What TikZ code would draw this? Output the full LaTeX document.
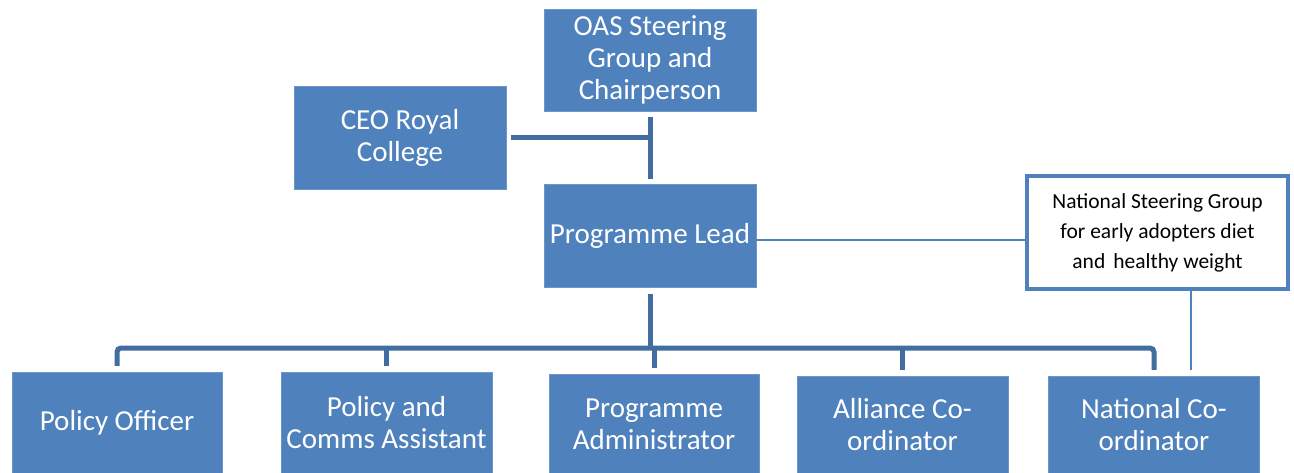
\documentclass[tikz,border=0pt]{standalone}
\usepackage{fontspec}
\setmainfont{Carlito}
\usepackage{tikz}
\definecolor{boxblue}{RGB}{79,129,189}
\definecolor{boxedge}{RGB}{108,150,203}
\definecolor{trunkblue}{RGB}{65,109,160}
\begin{document}
\begin{tikzpicture}[x=1pt, y=-1pt, box/.style={draw=boxedge, fill=boxblue, text=white, align=center, inner sep=0pt, font=\fontsize{29}{32}\selectfont, minimum width=212pt, minimum height=103pt}, nbox/.style={draw=boxblue, line width=4pt, fill=white, align=center, inner sep=0pt, font=\fontsize{21.5}{30}\selectfont, minimum width=261pt, minimum height=113pt}, trunk/.style={draw=trunkblue, line width=5pt}, link/.style={draw=boxblue, line width=2pt}]
\fill[white] (0,0) rectangle (1294,473);
\useasboundingbox (0,0) rectangle (1294,473);
\node[box, minimum height=102pt] (oas) at (650,60) {OAS Steering\\Group and\\Chairperson};
\node[box] (ceo) at (400,137.5) {CEO Royal\\College};
\node[box] (lead) at (650,235.5) {Programme Lead};
\node[nbox] (nsg) at (1157.5,232.5) {National Steering Group\\for early adopters diet\\and\hspace{0.15em} healthy weight};
\node[box, minimum width=210pt, minimum height=102pt] (po) at (117,423) {Policy Officer};
\node[box, minimum width=211pt, minimum height=102pt] (pca) at (386.5,423) {Policy and\\Comms Assistant};
\node[box, minimum width=210pt, minimum height=100pt] (pa) at (654,424) {Programme\\Administrator};
\node[box, minimum width=211pt, minimum height=98pt] (ac) at (902.5,425) {Alliance Co-\\ordinator};
\node[box, minimum width=211pt, minimum height=98pt] (nc) at (1154,425) {National Co-\\ordinator};
\coordinate (bus) at (650,348);
\draw[trunk] ([yshift=-6pt]oas.south) -- ([yshift=5pt]lead.north);
\draw[trunk] ([xshift=5pt]ceo.east) -- (ceo.east -| oas.south);
\draw[trunk] ([yshift=-7pt]lead.south) -- (bus);
\draw[trunk, rounded corners=4pt] ([yshift=6pt]po.north) |- (bus) -| ([yshift=6pt]nc.north);
\foreach \n in {pca,pa,ac}
  \draw[trunk] (\n.north |- bus) -- ([yshift=6pt]\n.north);
\draw[link] ([yshift=-5pt]lead.east) -- ([yshift=-5pt]lead.east -| nsg.west);
\draw[link] ([xshift=33pt]nsg.south) -- ([xshift=33pt, yshift=6pt]nsg.south |- nc.north);
\end{tikzpicture}
\end{document}
